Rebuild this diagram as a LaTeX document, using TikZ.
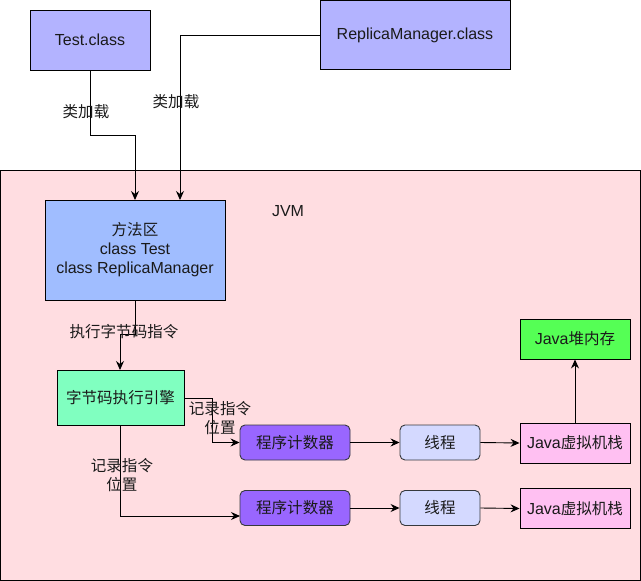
\documentclass[tikz,border=0pt]{standalone}
\usepackage{fontspec}
\setmainfont{Liberation Sans}
\newfontfamily\cjk[Scale=0.97]{Noto Sans CJK SC}
\usetikzlibrary{arrows.meta}
\definecolor{jvmbg}{HTML}{FFDDE1}
\definecolor{classc}{HTML}{B3B3FF}
\definecolor{methodc}{HTML}{A0BDFF}
\definecolor{enginec}{HTML}{80FFC0}
\definecolor{pcc}{HTML}{9966FF}
\definecolor{threadc}{HTML}{D4D9FF}
\definecolor{stackc}{HTML}{FFC0F2}
\definecolor{heapc}{HTML}{55FF55}
\definecolor{edgec}{HTML}{36393D}
\definecolor{txt}{HTML}{1A1A1A}
\tikzset{
  every node/.style={text=txt, font=\fontsize{16}{19}\selectfont, align=center, inner sep=0pt},
  box/.style={draw=black, line width=0.9pt, minimum width=#1},
  rbox/.style={draw=edgec, line width=0.9pt, rounded corners=5pt, minimum width=#1},
  conn/.style={draw=black, line width=0.9pt, -{Stealth[length=9pt,width=8pt,inset=3pt]}},
  lbl/.style={text=txt}
}
\begin{document}
\begin{tikzpicture}[x=1pt,y=-1pt]
\useasboundingbox (0,0) rectangle (641,581);
% JVM container
\draw[fill=jvmbg, line width=0.9pt] (0.5,170) rectangle (640,580);
\node[lbl] (jvmlabel) at (288,211) {JVM};
% class files
\node[box=120pt, minimum height=60pt, fill=classc] (test) at (90,40) {Test.class};
\node[box=190pt, minimum height=69pt, fill=classc] (rep) at (415,35) {ReplicaManager.class};
% method area
\node[box=180pt, minimum height=100pt, fill=methodc] (method) at (135,250) {{\cjk 方法区}\\class Test\\class ReplicaManager};
% engine
\node[box=127pt, minimum height=55pt, fill=enginec] (engine) at (120.5,397.5) {\cjk 字节码执行引擎};
% heap
\node[box=110pt, minimum height=40pt, fill=heapc] (heap) at (575,339) {Java{\cjk 堆内存}};
% row 1
\node[rbox=110pt, minimum height=35pt, fill=pcc] (pc1) at (295,442.5) {\cjk 程序计数器};
\node[rbox=80pt, minimum height=35pt, fill=threadc] (t1) at (440,442.5) {\cjk 线程};
\node[box=110pt, minimum height=40pt, fill=stackc] (s1) at (575,443) {Java{\cjk 虚拟机栈}};
% row 2
\node[rbox=110pt, minimum height=35pt, fill=pcc] (pc2) at (295,508) {\cjk 程序计数器};
\node[rbox=80pt, minimum height=35pt, fill=threadc] (t2) at (440,508) {\cjk 线程};
\node[box=110pt, minimum height=40pt, fill=stackc] (s2) at (575,508.5) {Java{\cjk 虚拟机栈}};
% coordinates
\coordinate (m1) at (135,200);
\coordinate (m2) at (180,200);
\coordinate (e1) at (120,370);
\coordinate (p2in) at (240,516);
% connectors
\draw[conn] (test.south) -- (90,135) -- (135,135) -- (m1);
\node[lbl] (l1) at (86,112) {\cjk 类加载};
\draw[conn] (rep.west) -- (180,35) -- (m2);
\node[lbl] (l2) at (176,102) {\cjk 类加载};
\draw[conn] (method.south) -- (135,334) -- (120,334) -- (e1);
\node[lbl] (l3) at (124,332) {\cjk 执行字节码指令};
\draw[conn] (184,398) -- (212,398) -- (212,442.5) -- (pc1.west);
\node[lbl] (l4) at (220,418) {\cjk 记录指令\\\cjk 位置};
\draw[conn] (120,425) -- (120,516) -- (p2in);
\node[lbl] (l5) at (122,475) {\cjk 记录指令\\\cjk 位置};
\draw[conn] (pc1.east) -- (t1.west);
\draw[conn] (t1.east) -- (s1.west);
\draw[conn] (s1.north) -- (heap.south);
\draw[conn] (pc2.east) -- (t2.west);
\draw[conn] (t2.east) -- (s2.west);
\end{tikzpicture}
\end{document}
